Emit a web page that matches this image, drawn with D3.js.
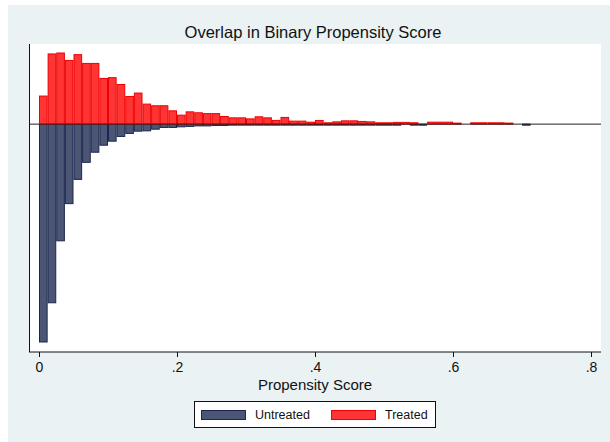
<!DOCTYPE html>
<html>
<head>
<meta charset="utf-8">
<script src="https://cdn.jsdelivr.net/npm/d3@7"></script>
<style>
  body { margin: 0; background: #fff; }
  text { font-family: "Liberation Sans", Arial, sans-serif; fill: #111; }
</style>
</head>
<body>
<script>
// histogram bins: start at 0, width .0125
const binStart = 0;
const binWidth = 0.0125;

// density per bin, treated (drawn above the line)
const treated = [
  2.72, 6.80, 6.89, 6.17, 6.73, 5.88, 5.88, 4.43, 4.50, 3.84,
  2.68, 3.01, 1.94, 1.78, 1.78, 1.29, 0.87, 1.19, 1.10, 1.02,
  1.02, 0.74, 0.61, 0.61, 0.51, 0.71, 0.61, 0.36, 0.65, 0.29,
  0.29, 0.19, 0.36, 0.13, 0.22, 0.32, 0.32, 0.26, 0.22, 0.13,
  0.13, 0.17, 0.17, 0.13, 0, 0.19, 0.19, 0.19, 0.10, 0,
  0.13, 0.13, 0.13, 0.13, 0.10, 0, 0
];

// density per bin, untreated (drawn below the line)
const untreated = [
  21.1, 17.3, 11.3, 7.7, 5.35, 3.7, 2.72, 2.04, 1.65, 1.19,
  0.90, 0.68, 0.65, 0.49, 0.32, 0.32, 0.26, 0.22, 0.17, 0.17,
  0.13, 0.13, 0.10, 0.09, 0.08, 0.07, 0.06, 0.05, 0.05, 0.04,
  0.04, 0.03, 0.03, 0.02, 0.02, 0.02, 0.05, 0.01, 0.01, 0.01,
  0.01, 0.01, 0, 0.01, 0.10, 0, 0, 0, 0, 0,
  0, 0, 0, 0, 0, 0, 0.10
];

const xTicks = [0, 0.2, 0.4, 0.6, 0.8];
const xTickLabels = ["0", ".2", ".4", ".6", ".8"];
const legendItems = [
  { label: "Untreated", fill: "#4a5674", stroke: "#1c2650" },
  { label: "Treated", fill: "#ff3535", stroke: "#f00000" }
];

const width = 610, height = 442;
const plot = { left: 29, right: 601, top: 44, bottom: 352 };

const svg = d3.select("body").append("svg")
  .attr("width", width)
  .attr("height", height);

// graph region
svg.append("rect")
  .attr("x", 8).attr("y", 5)
  .attr("width", width - 8).attr("height", height - 5)
  .attr("fill", "#eaf2f3");

// plot region
svg.append("rect")
  .attr("x", plot.left).attr("y", plot.top)
  .attr("width", plot.right - plot.left)
  .attr("height", plot.bottom - plot.top)
  .attr("fill", "#fff");

const x = d3.scaleLinear().domain([0, 0.8]).range([39, 591]);
const y = d3.scaleLinear()
  .domain([-d3.max(untreated), d3.max(treated)])
  .range([342, 53]);

const bins = treated.map((_, i) => binStart + i * binWidth);

svg.append("g")
  .selectAll("rect")
  .data(untreated)
  .join("rect")
  .attr("x", (d, i) => x(bins[i]) + 0.5)
  .attr("y", y(0))
  .attr("width", x(binWidth) - x(0) - 1)
  .attr("height", d => d > 0 ? Math.max(y(-d) - y(0), 1) : 0)
  .attr("fill", legendItems[0].fill)
  .attr("stroke", d => d > 0 ? legendItems[0].stroke : "none")
  .attr("stroke-width", 1);

svg.append("g")
  .selectAll("rect")
  .data(treated)
  .join("rect")
  .attr("x", (d, i) => x(bins[i]) + 0.5)
  .attr("y", d => y(d))
  .attr("width", x(binWidth) - x(0) - 1)
  .attr("height", d => y(0) - y(d))
  .attr("fill", legendItems[1].fill)
  .attr("stroke", d => d > 0 ? legendItems[1].stroke : "none")
  .attr("stroke-width", 1);

// zero line
svg.append("line")
  .attr("x1", plot.left).attr("x2", plot.right)
  .attr("y1", y(0)).attr("y2", y(0))
  .attr("stroke", "#222").attr("stroke-width", 1);

// y axis line (no ticks)
svg.append("line")
  .attr("x1", plot.left + 0.5).attr("x2", plot.left + 0.5)
  .attr("y1", plot.top).attr("y2", plot.bottom)
  .attr("stroke", "#111").attr("stroke-width", 1);

// x axis
const xAxis = svg.append("g")
  .attr("transform", `translate(0,${plot.bottom})`)
  .call(d3.axisBottom(x)
    .tickValues(xTicks)
    .tickFormat((d, i) => xTickLabels[i])
    .tickSize(5)
    .tickPadding(5));
xAxis.select(".domain").remove();
xAxis.append("line")
  .attr("x1", plot.left).attr("x2", plot.right)
  .attr("stroke", "#111");
xAxis.selectAll(".tick line").attr("stroke", "#111");
xAxis.selectAll(".tick text")
  .attr("font-size", "14px")
  .attr("font-family", "Liberation Sans, Arial, sans-serif")
  .attr("fill", "#111");

svg.append("text")
  .attr("x", 315).attr("y", 390)
  .attr("text-anchor", "middle")
  .attr("font-size", "15px")
  .text("Propensity Score");

svg.append("text")
  .attr("x", 313).attr("y", 38)
  .attr("text-anchor", "middle")
  .attr("font-size", "16.5px")
  .text("Overlap in Binary Propensity Score");

// legend
const legend = svg.append("g");
legend.append("rect")
  .attr("x", 194.5).attr("y", 401.5)
  .attr("width", 241).attr("height", 26)
  .attr("fill", "#fff").attr("stroke", "#111");

const item = legend.selectAll("g.item")
  .data(legendItems)
  .join("g")
  .attr("class", "item")
  .attr("transform", (d, i) => `translate(${201 + i * 130},0)`);
item.append("rect")
  .attr("x", 0.5).attr("y", 410.5)
  .attr("width", 44).attr("height", 9)
  .attr("fill", d => d.fill).attr("stroke", d => d.stroke);
item.append("text")
  .attr("x", 54).attr("y", 419)
  .attr("font-size", "12.5px")
  .text(d => d.label);
</script>
</body>
</html>
